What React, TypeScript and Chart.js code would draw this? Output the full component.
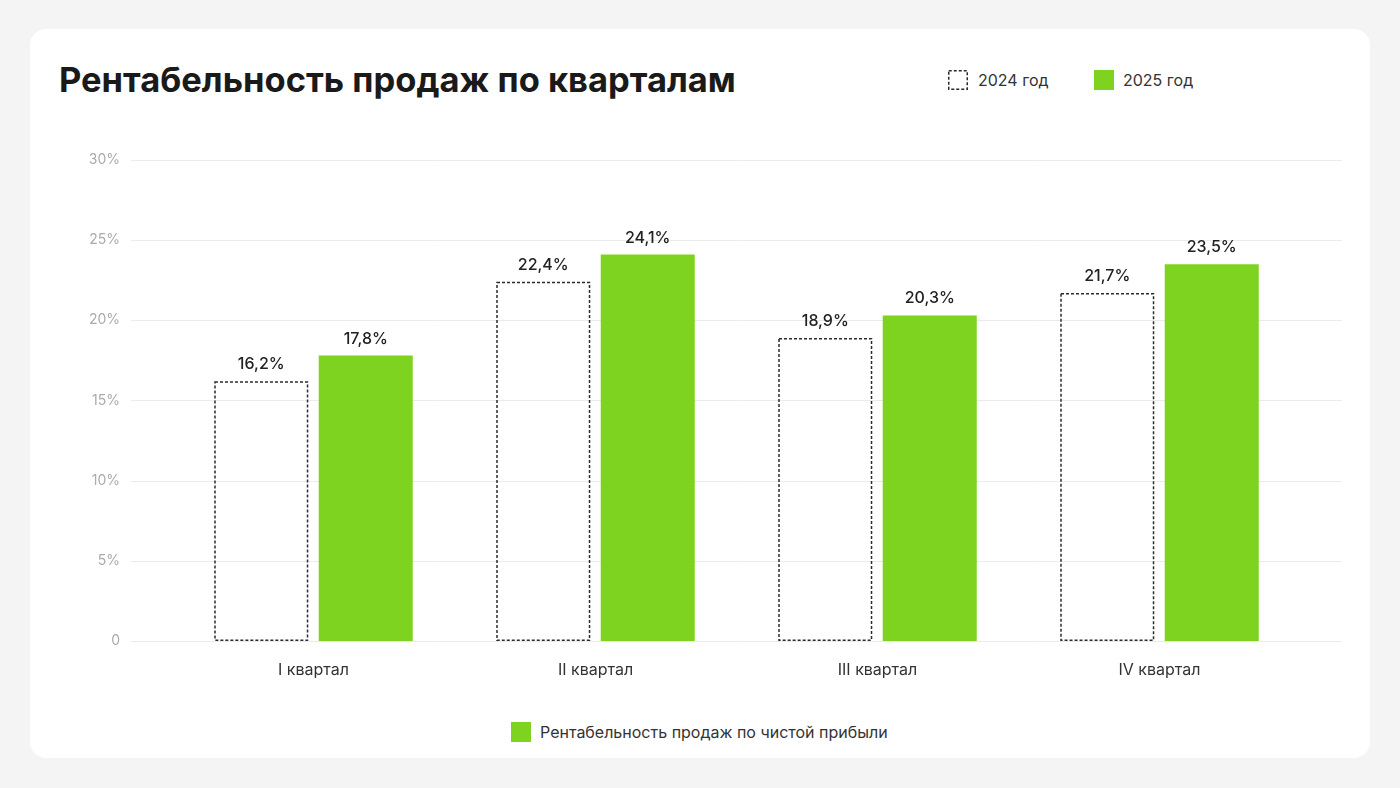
import React, { useEffect, useRef } from "react";
import { Chart, registerables } from "chart.js";

Chart.register(...registerables);

const title = "Рентабельность продаж по кварталам";
const categories = ["I квартал", "II квартал", "III квартал", "IV квартал"];
const seriesNames = ["2024 год", "2025 год"];
const values2024 = [16.2, 22.4, 18.9, 21.7];
const values2025 = [17.8, 24.1, 20.3, 23.5];
const yTicks = [0, 5, 10, 15, 20, 25, 30];
const footLegend = "Рентабельность продаж по чистой прибыли";

const GREEN = "#7ed321";
const DARK = "#2b2b2b";
const FONT = "Inter, 'Noto Sans', sans-serif";

const fmt = (v: number) => v.toFixed(1).replace(".", ",") + "%";

const customPlugin = {
  id: "custom",
  beforeDatasetsDraw(chart: any) {
    const { ctx, chartArea, scales } = chart;
    const y = scales.y;
    ctx.save();
    ctx.strokeStyle = "#ebebeb";
    ctx.lineWidth = 1;
    for (const t of yTicks) {
      const py = Math.round(y.getPixelForValue(t)) + 0.5;
      ctx.beginPath();
      ctx.moveTo(chartArea.left - 41.5, py);
      ctx.lineTo(chartArea.right + 41.5, py);
      ctx.stroke();
    }
    ctx.restore();
  },
  afterDatasetsDraw(chart: any) {
    const { ctx } = chart;
    ctx.save();
    const meta0 = chart.getDatasetMeta(0);
    ctx.strokeStyle = DARK;
    ctx.lineWidth = 1.5;
    ctx.setLineDash([3, 2]);
    meta0.data.forEach((bar: any) => {
      const { x, y, base, width } = bar.getProps(["x", "y", "base", "width"], true);
      const l = x - width / 2 + 0.75;
      const r = x + width / 2 - 0.75;
      const t = y + 0.75;
      const b = base - 0.75;
      ctx.strokeRect(l, t, r - l, b - t);
    });
    ctx.setLineDash([]);
    ctx.fillStyle = "#222";
    ctx.font = `500 16px ${FONT}`;
    ctx.textAlign = "center";
    ctx.textBaseline = "alphabetic";
    chart.data.datasets.forEach((ds: any, di: number) => {
      const meta = chart.getDatasetMeta(di);
      meta.data.forEach((bar: any, i: number) => {
        const { x, y } = bar.getProps(["x", "y"], true);
        ctx.fillText(fmt(ds.data[i]), x, y - 12);
      });
    });
    ctx.restore();
  },
};

function DashedSquare() {
  return (
    <svg width="20" height="20" style={{ display: "block" }}>
      <rect x="0.75" y="0.75" width="18.5" height="18.5" fill="none" stroke={DARK} strokeWidth="1.5" strokeDasharray="3 2" />
    </svg>
  );
}

export default function App() {
  const canvasRef = useRef<HTMLCanvasElement | null>(null);

  useEffect(() => {
    if (!canvasRef.current) return;
    const chart = new Chart(canvasRef.current, {
      type: "bar",
      data: {
        labels: categories,
        datasets: [
          {
            label: seriesNames[0],
            data: values2024,
            backgroundColor: "rgba(0,0,0,0)",
            borderWidth: 0,
            categoryPercentage: 0.741,
            barPercentage: 0.9,
          },
          {
            label: seriesNames[1],
            data: values2025,
            backgroundColor: GREEN,
            borderWidth: 0,
            categoryPercentage: 0.741,
            barPercentage: 0.9,
          },
        ],
      },
      options: {
        animation: false,
        responsive: false,
        maintainAspectRatio: false,
        layout: { padding: { top: 0, right: 69.5, left: 0, bottom: 18.8 } },
        plugins: {
          legend: { display: false },
          tooltip: { enabled: false },
        },
        scales: {
          x: {
            grid: { display: false, drawTicks: false },
            border: { display: false },
            ticks: {
              color: "#333",
              font: { family: FONT, size: 16 },
              padding: 20,
            },
          },
          y: {
            min: 0,
            max: 30,
            grid: { display: false, drawTicks: false },
            border: { display: false },
            ticks: {
              stepSize: 5,
              color: "#ababab",
              font: { family: FONT, size: 14 },
              padding: 52.5,
              callback: (v: any) => (Number(v) === 0 ? "0" : v + "%"),
            },
            afterFit(scale: any) {
              scale.width = 142.5;
            },
          },
        },
      },
      plugins: [customPlugin],
    });
    return () => chart.destroy();
  }, []);

  return (
    <div style={{ position: "fixed", inset: 0, background: "#f4f4f4", fontFamily: FONT }}>
      <div
        style={{
          position: "absolute",
          left: 30,
          top: 29,
          width: 1340,
          height: 729,
          background: "#fff",
          borderRadius: 16,
        }}
      />
      <div
        style={{
          position: "absolute",
          left: 59,
          top: 63,
          fontSize: 34.5,
          fontWeight: 700,
          lineHeight: 1,
          color: "#1a1a1a",
          whiteSpace: "nowrap",
        }}
      >
        {title}
      </div>
      <div style={{ position: "absolute", left: 948, top: 70, display: "flex", alignItems: "center", height: 20 }}>
        <DashedSquare />
        <span style={{ marginLeft: 10, fontSize: 16, lineHeight: "20px", color: "#333" }}>{seriesNames[0]}</span>
      </div>
      <div style={{ position: "absolute", left: 1094, top: 70, display: "flex", alignItems: "center", height: 20 }}>
        <div style={{ width: 20, height: 20, background: GREEN }} />
        <span style={{ marginLeft: 9, fontSize: 16, lineHeight: "20px", color: "#333" }}>{seriesNames[1]}</span>
      </div>
      <canvas
        ref={canvasRef}
        width={1340}
        height={620}
        style={{ position: "absolute", left: 30, top: 99, width: 1340, height: 620 }}
      />
      <div style={{ position: "absolute", left: 511, top: 722, display: "flex", alignItems: "center", height: 20 }}>
        <div style={{ width: 20, height: 20, background: GREEN }} />
        <span style={{ marginLeft: 9, fontSize: 16, lineHeight: "20px", color: "#333" }}>{footLegend}</span>
      </div>
    </div>
  );
}
